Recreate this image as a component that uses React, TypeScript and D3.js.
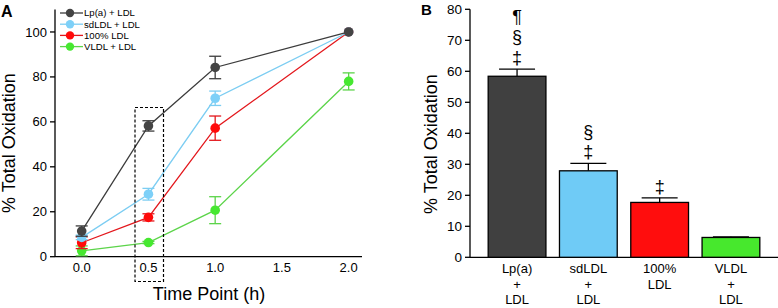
import React, { useEffect, useRef } from 'react'
import * as d3 from 'd3'

// panel A: time course
const timePoints = [0, 0.5, 1, 2]
const seriesNames = ['Lp(a) + LDL', 'sdLDL + LDL', '100% LDL', 'VLDL + LDL']
const lineColors = ['#3c3c3c', '#7ccdf2', '#e3171c', '#5cd44a']
const dotColors = ['#444444', '#7dd0f8', '#ff0a0a', '#46e830']
const lpaMean = [11.4, 58.2, 84.2, 100]
const lpaErr = [2.3, 2.3, 5, 0]
const sdMean = [8.6, 27.8, 70.5, 100]
const sdErr = [1.0, 2.6, 3.2, 0]
const ldlMean = [6.2, 17.5, 57.2, 100]
const ldlErr = [2.6, 1.6, 5.4, 0]
const vldlMean = [2.6, 6.3, 20.7, 78]
const vldlErr = [2.2, 0.5, 6, 3.8]
const yTicksA = [0, 20, 40, 60, 80, 100]
const xTicksA = [0, 0.5, 1, 1.5, 2]

// panel B: 0.5 h
const barLabels = [['Lp(a)', '+', 'LDL'], ['sdLDL', '+', 'LDL'], ['100%', 'LDL'], ['VLDL', '+', 'LDL']]
const barMean = [58.4, 27.9, 17.7, 6.4]
const barErr = [2.3, 2.4, 1.5, 0.2]
const barColors = ['#404040', '#6fcbf6', '#ff0d0d', '#47e82d']
const barMarks = [['‡', '§', '¶'], ['‡', '§'], ['‡'], []]
const yTicksB = [0, 10, 20, 30, 40, 50, 60, 70, 80]

const FONT = '"Liberation Sans", Arial, sans-serif'

const App = () => {
  const ref = useRef<SVGSVGElement>(null)

  useEffect(() => {
    const svg = d3.select(ref.current)
    svg.selectAll('*').remove()
    svg.attr('font-family', FONT)

    // ---------- A ----------
    const x = d3.scaleLinear().domain([-0.2, 2.1]).range([55, 362])
    const y = d3.scaleLinear().domain([0, 110]).range([256.7, 9.5])
    const a = svg.append('g')

    a.append('line').attr('x1', 55).attr('x2', 55).attr('y1', y(110)).attr('y2', y(0))
      .attr('stroke', '#000').attr('stroke-width', 1.3)
    a.append('line').attr('x1', 55).attr('x2', 362).attr('y1', y(0)).attr('y2', y(0))
      .attr('stroke', '#000').attr('stroke-width', 1.3)
    yTicksA.forEach(t => {
      a.append('line').attr('x1', 50).attr('x2', 55).attr('y1', y(t)).attr('y2', y(t))
        .attr('stroke', '#000').attr('stroke-width', 1.3)
      a.append('text').attr('x', 47).attr('y', y(t)).attr('dy', '0.35em')
        .attr('text-anchor', 'end').attr('font-size', 13).text(t)
    })
    xTicksA.forEach(t => {
      a.append('text').attr('x', x(t)).attr('y', 272).attr('text-anchor', 'middle')
        .attr('font-size', 13).text(d3.format('.1f')(t))
    })

    const means = [lpaMean, sdMean, ldlMean, vldlMean]
    const errs = [lpaErr, sdErr, ldlErr, vldlErr]
    const line = d3.line<number>().x((d, i) => x(timePoints[i])).y(d => y(d))
    // draw bottom series first so Lp(a) sits on top
    ;[3, 2, 1, 0].forEach(s => {
      const g = a.append('g')
      g.append('path').attr('d', line(means[s])).attr('fill', 'none')
        .attr('stroke', lineColors[s]).attr('stroke-width', 1.3)
      means[s].forEach((m, i) => {
        const e = errs[s][i]
        const cx = x(timePoints[i])
        if (e > 0.3) {
          g.append('line').attr('x1', cx).attr('x2', cx).attr('y1', y(m - e)).attr('y2', y(m + e))
            .attr('stroke', lineColors[s]).attr('stroke-width', 1.3)
          ;[m - e, m + e].forEach(v => {
            g.append('line').attr('x1', cx - 6).attr('x2', cx + 6).attr('y1', y(v)).attr('y2', y(v))
              .attr('stroke', lineColors[s]).attr('stroke-width', 1.3)
          })
        }
        g.append('circle').attr('cx', cx).attr('cy', y(m)).attr('r', 4.8).attr('fill', dotColors[s])
      })
    })

    // dashed box round 0.5 h
    a.append('rect').attr('x', 135).attr('y', 107.5).attr('width', 28.5).attr('height', 174)
      .attr('fill', 'none').attr('stroke', '#000').attr('stroke-width', 1.2).attr('stroke-dasharray', '3,2')

    // legend
    seriesNames.forEach((n, i) => {
      const ly = 13 + i * 11.2
      a.append('line').attr('x1', 60).attr('x2', 83).attr('y1', ly).attr('y2', ly)
        .attr('stroke', lineColors[i]).attr('stroke-width', 1.3)
      a.append('circle').attr('cx', 70).attr('cy', ly).attr('r', 4.2).attr('fill', dotColors[i])
      a.append('text').attr('x', 84).attr('y', ly).attr('dy', '0.35em').attr('font-size', 9.6).text(n)
    })

    a.append('text').attr('x', 209).attr('y', 300).attr('text-anchor', 'middle')
      .attr('font-size', 18).text('Time Point (h)')
    a.append('text').attr('transform', 'translate(15,143) rotate(-90)').attr('text-anchor', 'middle')
      .attr('font-size', 18).text('% Total Oxidation')
    a.append('text').attr('x', 1).attr('y', 17).attr('font-size', 16).attr('font-weight', 'bold').text('A')

    // ---------- B ----------
    const xb = d3.scaleBand<number>().domain(d3.range(barMean.length)).range([470, 778])
      .paddingInner(0.19).paddingOuter(0.255)
    const yb = d3.scaleLinear().domain([0, 80]).range([257.3, 9.3])
    const b = svg.append('g')

    b.append('line').attr('x1', 470).attr('x2', 470).attr('y1', yb(80)).attr('y2', yb(0))
      .attr('stroke', '#000').attr('stroke-width', 1.3)
    b.append('line').attr('x1', 470).attr('x2', 778).attr('y1', yb(0)).attr('y2', yb(0))
      .attr('stroke', '#000').attr('stroke-width', 1.3)
    yTicksB.forEach(t => {
      b.append('line').attr('x1', 465).attr('x2', 470).attr('y1', yb(t)).attr('y2', yb(t))
        .attr('stroke', '#000').attr('stroke-width', 1.3)
      b.append('text').attr('x', 462).attr('y', yb(t)).attr('dy', '0.35em')
        .attr('text-anchor', 'end').attr('font-size', 13.5).text(t)
    })

    barMean.forEach((m, i) => {
      const bx = xb(i) as number
      const w = xb.bandwidth()
      const cx = bx + w / 2
      const top = yb(m + barErr[i])
      b.append('line').attr('x1', cx).attr('x2', cx).attr('y1', yb(m)).attr('y2', top)
        .attr('stroke', '#000').attr('stroke-width', 1.3)
      b.append('line').attr('x1', cx - 18).attr('x2', cx + 18).attr('y1', top).attr('y2', top)
        .attr('stroke', '#000').attr('stroke-width', 1.3)
      b.append('rect').attr('x', bx).attr('y', yb(m)).attr('width', w).attr('height', yb(0) - yb(m))
        .attr('fill', barColors[i]).attr('stroke', '#000').attr('stroke-width', 1.3)
      barMarks[i].forEach((s, k) => {
        b.append('text').attr('x', cx).attr('y', top - 11.5 - k * 20.5).attr('dy', '0.35em')
          .attr('text-anchor', 'middle').attr('font-size', 18).attr('fill', '#000').text(s)
      })
      barLabels[i].forEach((l, k) => {
        b.append('text').attr('x', cx).attr('y', 273 + k * 15.5).attr('text-anchor', 'middle')
          .attr('font-size', 13).text(l)
      })
    })

    b.append('text').attr('transform', 'translate(437,144) rotate(-90)').attr('text-anchor', 'middle')
      .attr('font-size', 18).text('% Total Oxidation')
    b.append('text').attr('x', 421).attr('y', 15).attr('font-size', 15).attr('font-weight', 'bold').text('B')
  }, [])

  return <svg ref={ref} width={778} height={308}
    style={{ position: 'absolute', left: 0, top: 0, background: '#fff' }} />
}

export default App
